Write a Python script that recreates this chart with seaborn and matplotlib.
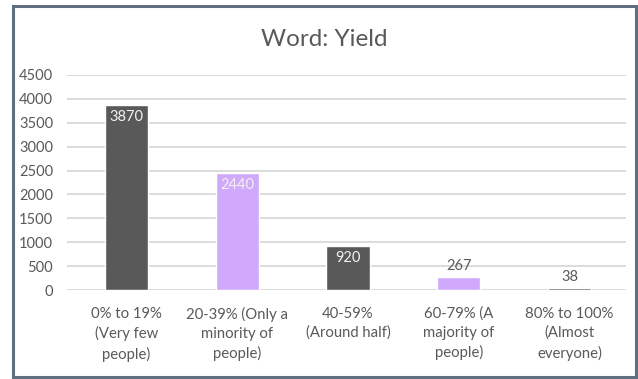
import matplotlib
matplotlib.use("Agg")
import matplotlib.pyplot as plt
from matplotlib.patches import Rectangle
import pandas as pd
import seaborn as sns

# Survey answers for the word "Yield"
categories = [
    "0% to 19%\n(Very few\npeople)",
    "20-39% (Only a\nminority of\npeople)",
    "40-59%\n(Around half)",
    "60-79% (A\nmajority of\npeople)",
    "80% to 100%\n(Almost\neveryone)",
]
counts = [3870, 2440, 920, 267, 38]
bar_colors = ["#595959", "#D0A8FC", "#595959", "#D0A8FC", "#595959"]
y_ticks = [0, 500, 1000, 1500, 2000, 2500, 3000, 3500, 4000, 4500]
title = "Word: Yield"

sns.set_theme(style="white")
plt.rcParams["font.family"] = ["Lato", "DejaVu Sans"]

text_grey = "#595959"
df = pd.DataFrame({"category": categories, "count": counts})

fig = plt.figure(figsize=(6.38, 3.79), dpi=100)
ax = fig.add_axes([67 / 638, 1 - 290 / 379, (626 - 67) / 638, (290 - 75) / 379])

sns.barplot(data=df, x="category", y="count", hue="category",
            palette=bar_colors, legend=False, width=0.39,
            saturation=1, ax=ax, zorder=3)

ax.set_ylim(0, 4500)
ax.set_xlim(-0.537, 4.51)
ax.set_yticks(y_ticks)
ax.set_yticklabels([str(v) for v in y_ticks])
ax.yaxis.grid(True, color="#d9d9d9", linewidth=1.3, zorder=0)
ax.xaxis.grid(False)
for s in ax.spines.values():
    s.set_visible(False)
ax.set_xlabel("")
ax.set_ylabel("")
ax.tick_params(axis="y", length=0, pad=10, labelsize=10.5, labelcolor=text_grey)
ax.tick_params(axis="x", length=0, pad=12, labelsize=10.7, labelcolor=text_grey)
for lbl in ax.get_xticklabels():
    lbl.set_linespacing(1.45)
    lbl.set_horizontalalignment("center")

# value labels: inside the bar for tall bars, above it for short ones
for i, v in enumerate(counts):
    if v > 500:
        ax.annotate(str(v), (i, v), xytext=(0, -12), textcoords="offset pixels",
                    ha="center", va="center", fontsize=10.5, color="#f2f2f2",
                    zorder=5)
    else:
        ax.annotate(str(v), (i, v), xytext=(0, 4), textcoords="offset pixels",
                    ha="center", va="bottom", fontsize=10.5, color=text_grey,
                    zorder=5)

fig.text(324 / 638, 1 - 40 / 379, title, ha="center", va="center",
         fontsize=17.5, color=text_grey)

# outer chart border
fig.patches.append(Rectangle((13 / 638, 2 / 379), (636 - 13) / 638, (377 - 6) / 379,
                             transform=fig.transFigure, fill=False,
                             edgecolor="#5f6f80", linewidth=2.2))

fig.savefig("out.png", dpi=100)
